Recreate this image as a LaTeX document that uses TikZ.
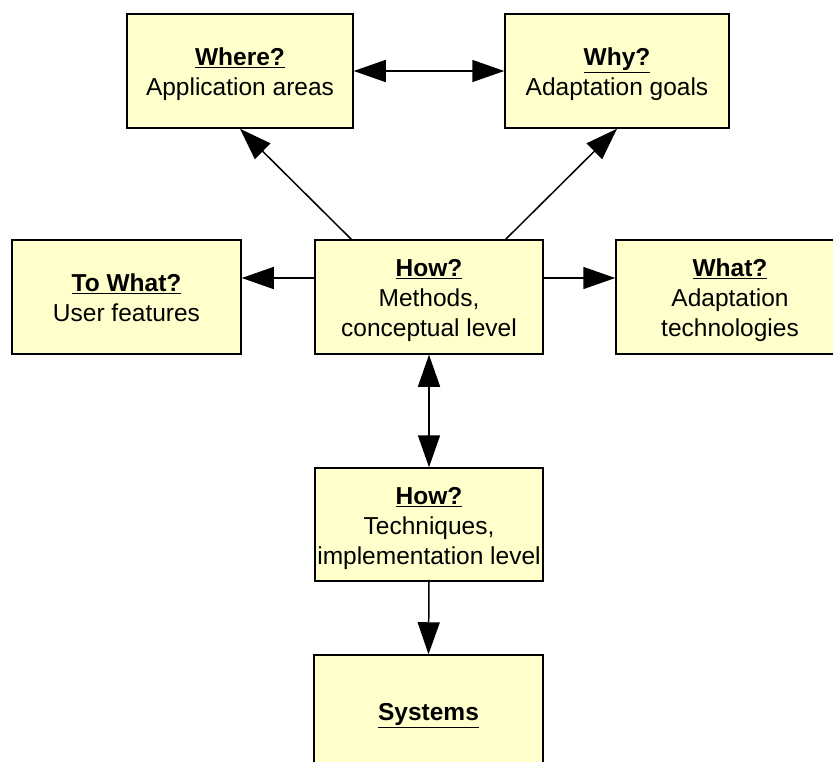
\documentclass[tikz,border=0pt]{standalone}
\usepackage{fontspec}
\setmainfont{Liberation Sans}
\usetikzlibrary{arrows.meta,calc}
\definecolor{boxfill}{RGB}{255,255,204}
% bold, underlined heading; the strut lowers the text block a little
\newcommand{\qhead}[1]{\rule{0pt}{24.5pt}\underline{\textbf{#1}}}
\begin{document}
\begin{tikzpicture}[x=1pt,y=-1pt,
  qbox/.style={draw=black,line width=1.5pt,fill=boxfill,inner sep=0pt,
    align=center,font=\fontsize{24.5}{30}\selectfont,
    execute at end node={\rule[-5.3pt]{0pt}{5.3pt}}},
  link/.style={line width=1.5pt,-{Triangle[length=32pt,width=22pt]}},
  dlink/.style={line width=1.5pt,{Triangle[length=32pt,width=22pt]}-{Triangle[length=32pt,width=22pt]}}]
\useasboundingbox (0,0) rectangle (833,761);
\begin{scope}
\clip (0,0) rectangle (833,761);
\node[qbox,minimum width=226pt,minimum height=114pt] (where) at (240,71) {\qhead{Where?}\\Application areas};
\node[qbox,minimum width=224pt,minimum height=114pt] (why) at (617,71) {\qhead{Why?}\\Adaptation goals};
\node[qbox,minimum width=229pt,minimum height=114pt] (towhat) at (126.5,297) {\qhead{To What?}\\User features};
\node[qbox,minimum width=228pt,minimum height=114pt] (how) at (429,297) {\qhead{How?}\\Methods,\\conceptual level};
\node[qbox,minimum width=228pt,minimum height=114pt] (what) at (730,297) {\qhead{What?}\\Adaptation\\technologies};
\node[qbox,minimum width=228pt,minimum height=113pt] (tech) at (429,524.5) {\qhead{How?}\\Techniques,\\implementation level};
\node[qbox,minimum width=229pt,minimum height=113pt] (sys) at (428.5,711.5) {\qhead{Systems}};
\end{scope}
% connectors
\draw[dlink] (where.east) -- (why.west);
\draw[link] ($(how.north west)+(37,0)$) -- (where.south);
\draw[link] ($(how.north east)+(-38,0)$) -- (why.south);
\draw[link] ([yshift=19pt]how.west) -- ([yshift=19pt]towhat.east);
\draw[link] ([yshift=19pt]how.east) -- ([yshift=19pt]what.west);
\draw[dlink] (how.south) -- (tech.north);
\draw[link] (tech.south) -- (sys.north);
\end{tikzpicture}
\end{document}
